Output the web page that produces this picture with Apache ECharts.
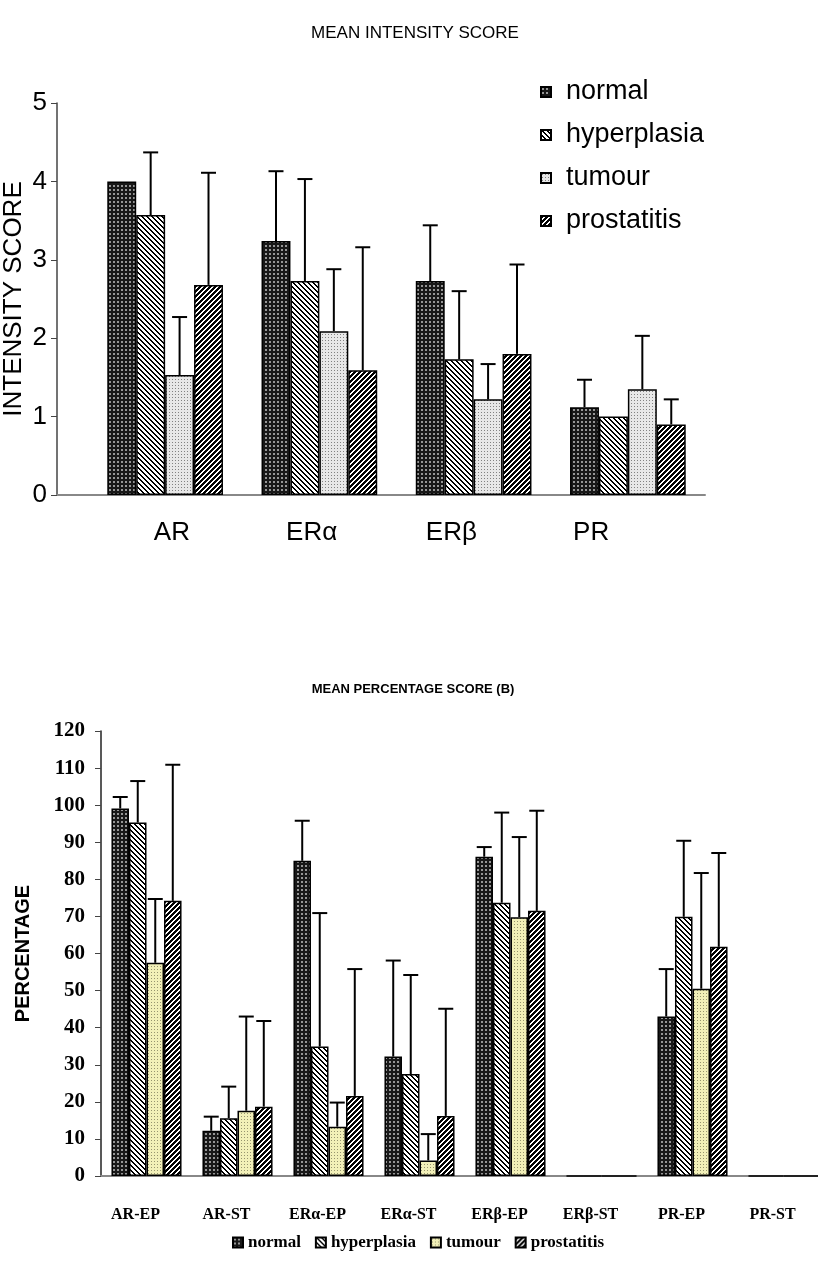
<!DOCTYPE html>
<html>
<head>
<meta charset="utf-8">
<script src="https://cdn.jsdelivr.net/npm/echarts@6/dist/echarts.min.js"></script>
<style>
html,body{margin:0;padding:0;background:#fff;}
#top{position:absolute;left:0;top:0;width:818px;height:620px;}
#bot{position:absolute;left:0;top:620px;width:818px;height:658px;}
</style>
</head>
<body>
<div id="top"></div>
<div id="bot"></div>
<script>
// ---------- DATA ----------
const seriesNames = ['normal', 'hyperplasia', 'tumour', 'prostatitis'];

// Chart A: mean intensity score
const intensityCategories = ['AR', 'ERα', 'ERβ', 'PR'];
const intensityNormal      = [4.00, 3.24, 2.73, 1.12];
const intensityHyperplasia = [3.57, 2.73, 1.73, 1.00];
const intensityTumour      = [1.53, 2.09, 1.22, 1.35];
const intensityProstatitis = [2.68, 1.59, 1.80, 0.90];
const intensityErrNormal      = [0.00, 0.89, 0.71, 0.35];
const intensityErrHyperplasia = [0.80, 1.30, 0.87, 0.00];
const intensityErrTumour      = [0.74, 0.79, 0.45, 0.68];
const intensityErrProstatitis = [1.43, 1.57, 1.14, 0.32];

// Chart B: mean percentage score
const percentCategories = ['AR-EP', 'AR-ST', 'ERα-EP', 'ERα-ST', 'ERβ-EP', 'ERβ-ST', 'PR-EP', 'PR-ST'];
const percentNormal      = [99.1, 12.2, 85.0, 32.2, 86.1, 0, 43.0, 0];
const percentHyperplasia = [95.3, 15.6, 34.9, 27.5, 73.7, 0, 69.9, 0];
const percentTumour      = [57.5, 17.6, 13.3, 4.2, 69.8, 0, 50.5, 0];
const percentProstatitis = [74.2, 18.7, 21.6, 16.2, 71.5, 0, 61.8, 0];
const percentErrNormal      = [3.1, 3.8, 10.8, 25.9, 2.6, 0, 12.8, 0];
const percentErrHyperplasia = [11.2, 8.5, 36.0, 26.7, 24.3, 0, 20.5, 0];
const percentErrTumour      = [17.2, 25.4, 6.5, 7.1, 21.6, 0, 31.2, 0];
const percentErrProstatitis = [36.7, 23.1, 34.2, 28.9, 27.0, 0, 25.3, 0];

// ---------- PATTERNS ----------
function tile(w, h, fn) {
  const c = document.createElement('canvas');
  c.width = w; c.height = h;
  const ctx = c.getContext('2d');
  const img = ctx.createImageData(w, h);
  for (let y = 0; y < h; y++) for (let x = 0; x < w; x++) {
    const col = fn(x, y);
    const i = (y * w + x) * 4;
    img.data[i] = col[0]; img.data[i + 1] = col[1]; img.data[i + 2] = col[2]; img.data[i + 3] = 255;
  }
  ctx.putImageData(img, 0, 0);
  return { image: c, repeat: 'repeat' };
}
const BLACK = [0, 0, 0], WHITE = [255, 255, 255];
const patNormal = tile(4, 4, (x, y) => (x >= 1 && x <= 2 && y >= 1 && y <= 2) ? [150, 150, 150] : [24, 24, 24]);
const patHyper = tile(5, 5, (x, y) => ((((x - y) % 5) + 5) % 5) < 2 ? BLACK : WHITE);
const patProst = tile(5, 5, (x, y) => ((x + y) % 5) < 3 ? BLACK : WHITE);
const patTumourGrey = tile(3, 3, (x, y) => (x === 1 && y === 1) ? [130, 130, 130] : [232, 232, 232]);
const patTumourYellow = tile(3, 3, (x, y) => (x === 1 && y === 1) ? [150, 148, 110] : [242, 240, 184]);

function errRenderer(si, n, gapRatio, capW) {
  return function (params, api) {
    const c = api.value(0), v = api.value(1), e = api.value(2);
    if (!e) return null;
    const base = api.coord([c, v]);
    const top = api.coord([c, v + e]);
    const band = api.size([1, 0])[0];
    const groupW = band * (1 - gapRatio);
    const bw = groupW / n;
    const x = base[0] - groupW / 2 + bw * (si + 0.5);
    return {
      type: 'group',
      children: [
        { type: 'line', shape: { x1: x, y1: base[1], x2: x, y2: top[1] }, style: { stroke: '#000', lineWidth: 2 } },
        { type: 'line', shape: { x1: x - capW / 2, y1: top[1], x2: x + capW / 2, y2: top[1] }, style: { stroke: '#000', lineWidth: 2 } }
      ]
    };
  };
}

// ---------- CHART A ----------
const topChart = echarts.init(document.getElementById('top'), null, { renderer: 'canvas' });
const topVals = [intensityNormal, intensityHyperplasia, intensityTumour, intensityProstatitis];
const topErrs = [intensityErrNormal, intensityErrHyperplasia, intensityErrTumour, intensityErrProstatitis];
const topPats = [patNormal, patHyper, patTumourGrey, patProst];
const topGap = 0.25;
const topSeries = [];
seriesNames.forEach((nm, si) => {
  topSeries.push({
    type: 'bar', name: nm, xAxisIndex: 1, yAxisIndex: 1,
    data: topVals[si], barGap: '0%', barCategoryGap: (topGap * 100) + '%',
    itemStyle: { color: topPats[si], borderColor: '#000', borderWidth: 1.5 },
    emphasis: { disabled: true }
  });
});
seriesNames.forEach((nm, si) => {
  topSeries.push({
    type: 'custom', name: nm + ' error', xAxisIndex: 1, yAxisIndex: 1, z: 5,
    renderItem: errRenderer(si, 4, topGap, 15),
    encode: { x: 0, y: 1 },
    data: topVals[si].map((v, i) => [i, v, topErrs[si][i]])
  });
});
topChart.setOption({
  animation: false,
  title: {
    text: 'MEAN INTENSITY SCORE', left: 410, top: 20, textAlign: 'center',
    textStyle: { fontFamily: 'Liberation Sans', fontSize: 17, fontWeight: 'normal', color: '#000' }
  },
  legend: {
    data: seriesNames, orient: 'vertical', left: 535, top: 72,
    icon: 'rect', itemWidth: 10, itemHeight: 10, itemGap: 13,
    textStyle: { fontFamily: 'Liberation Sans', fontSize: 27, color: '#000', lineHeight: 30, padding: [0, 0, 0, 10] },
    selectedMode: false
  },
  grid: [
    { left: 57, top: 103, width: 648, height: 392, outerBoundsMode: 'none', containLabel: false },
    { left: 88, top: 103, width: 617, height: 392, outerBoundsMode: 'none', containLabel: false },
    { left: 102, top: 103, width: 559, height: 392, outerBoundsMode: 'none', containLabel: false }
  ],
  xAxis: [
    { type: 'category', gridIndex: 0, data: intensityCategories, axisLine: { lineStyle: { color: '#888', width: 2 } }, axisTick: { show: false }, axisLabel: { show: false } },
    { type: 'category', gridIndex: 1, data: intensityCategories, show: false },
    { type: 'category', gridIndex: 2, data: intensityCategories, axisLine: { show: false }, axisTick: { show: false },
      axisLabel: { fontFamily: 'Liberation Sans', fontSize: 26, color: '#000', margin: 25 } }
  ],
  yAxis: [
    { type: 'value', gridIndex: 0, min: 0, max: 5, interval: 1,
      axisLine: { show: true, lineStyle: { color: '#444', width: 1.5 } },
      axisTick: { show: true, inside: false, length: 6, lineStyle: { color: '#444' } },
      axisLabel: { fontFamily: 'Liberation Sans', fontSize: 26, color: '#000', margin: 10 },
      splitLine: { show: false },
      name: 'INTENSITY SCORE', nameLocation: 'middle', nameRotate: 90, nameGap: 30, nameMoveOverlap: false,
      nameTextStyle: { fontFamily: 'Liberation Sans', fontSize: 26, color: '#000' } },
    { type: 'value', gridIndex: 1, min: 0, max: 5, interval: 1, show: false, splitLine: { show: false } },
    { type: 'value', gridIndex: 2, min: 0, max: 5, interval: 1, show: false, splitLine: { show: false } }
  ],
  series: topSeries
});

// ---------- CHART B ----------
const botChart = echarts.init(document.getElementById('bot'), null, { renderer: 'canvas' });
const botVals = [percentNormal, percentHyperplasia, percentTumour, percentProstatitis];
const botErrs = [percentErrNormal, percentErrHyperplasia, percentErrTumour, percentErrProstatitis];
const botPats = [patNormal, patHyper, patTumourYellow, patProst];
const botGap = 0.23;
const botSeries = [];
seriesNames.forEach((nm, si) => {
  botSeries.push({
    type: 'bar', name: nm, xAxisIndex: 0, yAxisIndex: 0,
    data: botVals[si], barGap: '0%', barCategoryGap: (botGap * 100) + '%',
    itemStyle: { color: botPats[si], borderColor: '#000', borderWidth: 1.5 },
    emphasis: { disabled: true }
  });
});
seriesNames.forEach((nm, si) => {
  botSeries.push({
    type: 'custom', name: nm + ' error', xAxisIndex: 0, yAxisIndex: 0, z: 5,
    renderItem: errRenderer(si, 4, botGap, 15),
    encode: { x: 0, y: 1 },
    data: botVals[si].map((v, i) => [i, v, botErrs[si][i]])
  });
});
botChart.setOption({
  animation: false,
  title: {
    text: 'MEAN PERCENTAGE SCORE (B)', left: 408, top: 58, textAlign: 'center',
    textStyle: { fontFamily: 'Liberation Sans', fontSize: 13, fontWeight: 'bold', color: '#000' }
  },
  legend: {
    data: seriesNames, orient: 'horizontal', left: 227, top: 609,
    icon: 'rect', itemWidth: 10, itemHeight: 10, itemGap: 14,
    textStyle: { fontFamily: 'Liberation Serif', fontSize: 17, fontWeight: 'bold', color: '#000' },
    selectedMode: false
  },
  grid: [
    { left: 101, top: 111, width: 728, height: 445, outerBoundsMode: 'none', containLabel: false },
    { left: 90, top: 111, width: 728, height: 445, outerBoundsMode: 'none', containLabel: false }
  ],
  xAxis: [
    { type: 'category', gridIndex: 0, data: percentCategories, axisLine: { lineStyle: { color: '#888', width: 2 } }, axisTick: { show: false }, axisLabel: { show: false } },
    { type: 'category', gridIndex: 1, data: percentCategories, axisLine: { show: false }, axisTick: { show: false },
      axisLabel: { fontFamily: 'Liberation Serif', fontSize: 16, fontWeight: 'bold', color: '#000', margin: 31, interval: 0 } }
  ],
  yAxis: [
    { type: 'value', gridIndex: 0, min: 0, max: 120, interval: 10,
      axisLine: { show: true, lineStyle: { color: '#222', width: 1.5 } },
      axisTick: { show: true, inside: false, length: 6, lineStyle: { color: '#444' } },
      axisLabel: { fontFamily: 'Liberation Serif', fontSize: 21, fontWeight: 'bold', color: '#000', margin: 16 },
      splitLine: { show: false },
      name: 'PERCENTAGE', nameLocation: 'middle', nameRotate: 90, nameGap: 68, nameMoveOverlap: false,
      nameTextStyle: { fontFamily: 'Liberation Sans', fontSize: 20, fontWeight: 'bold', color: '#000' } },
    { type: 'value', gridIndex: 1, min: 0, max: 120, interval: 10, show: false, splitLine: { show: false } }
  ],
  series: botSeries
});
</script>
</body>
</html>
